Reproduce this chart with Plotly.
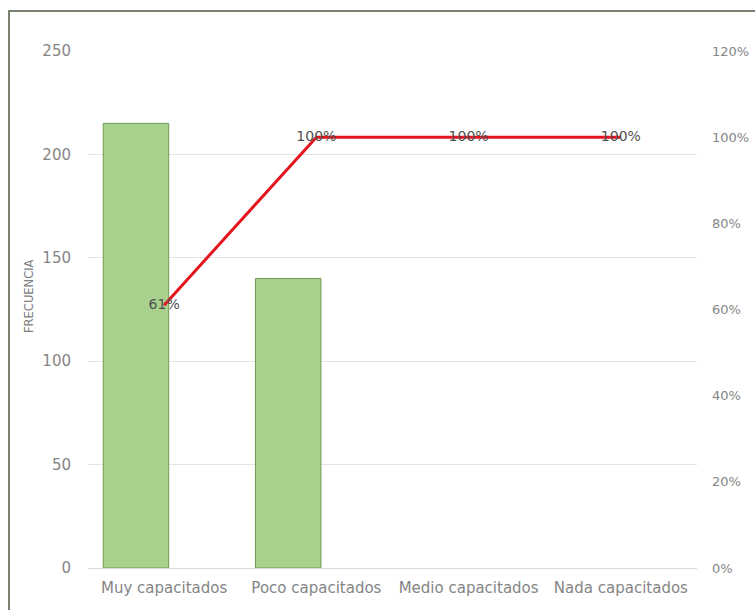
import plotly.graph_objects as go

categories = ["Muy capacitados", "Poco capacitados", "Medio capacitados", "Nada capacitados"]
frecuencia = [215, 140, 0, 0]
acumulado = [0.61, 1.00, 1.00, 1.00]
acumulado_labels = ["61%", "100%", "100%", "100%"]

W, H = 755, 610
L, R, T, B = 88, 58, 51, 42
pw, ph = W - L - R, H - T - B

fig = go.Figure()
fig.add_trace(go.Bar(
    x=categories, y=frecuencia, yaxis="y",
    marker=dict(color="#a9d18e", line=dict(color="#6f9a55", width=[1, 1, 0, 0])),
    width=0.43, offset=-0.40, showlegend=False,
))
fig.add_trace(go.Scatter(
    x=categories, y=acumulado, yaxis="y2", mode="lines+text",
    text=acumulado_labels, textposition="middle center",
    textfont=dict(family="DejaVu Sans", size=14, color="#505050"),
    line=dict(color="#e3151f", width=3), showlegend=False, cliponaxis=False,
))

tickfont = dict(family="DejaVu Sans", size=15, color="#858585")
tickfont_r = dict(family="DejaVu Sans", size=13, color="#858585")
fig.update_layout(
    width=W, height=H,
    margin=dict(l=L, r=R, t=T, b=B, autoexpand=False),
    paper_bgcolor="white", plot_bgcolor="white",
    xaxis=dict(type="category", showgrid=False, showline=True, linecolor="#d9d9d9",
               ticks="", tickfont=tickfont, range=[-0.5, 3.5], ticklabelstandoff=6,
               automargin=False),
    yaxis=dict(range=[0, 250], dtick=50, showgrid=True, gridcolor="#e3e3e3",
               zeroline=False, showline=False, ticks="", tickfont=tickfont,
               ticklabelstandoff=16, automargin=False),
    yaxis2=dict(range=[0, 1.2], dtick=0.2, tickformat=".0%", overlaying="y", side="right",
                showgrid=False, zeroline=False, showline=False, ticks="", tickfont=tickfont_r,
                ticklabelstandoff=14, automargin=False),
    annotations=[dict(text="FRECUENCIA", textangle=-90, showarrow=False,
                      xref="paper", yref="paper", x=(29 - L) / pw, y=(H - B - 296) / ph,
                      xanchor="center", yanchor="middle",
                      font=dict(family="DejaVu Sans", size=11.5, color="#808080"))],
    shapes=[dict(type="rect", xref="paper", yref="paper",
                 x0=(9 - L) / pw, x1=(W + 5 - L) / pw,
                 y0=(H - B - (H + 5)) / ph, y1=(H - B - 11) / ph,
                 line=dict(color="#4d5a40", width=1.5), fillcolor="rgba(0,0,0,0)", layer="below")],
)

fig.write_html("out.html")
